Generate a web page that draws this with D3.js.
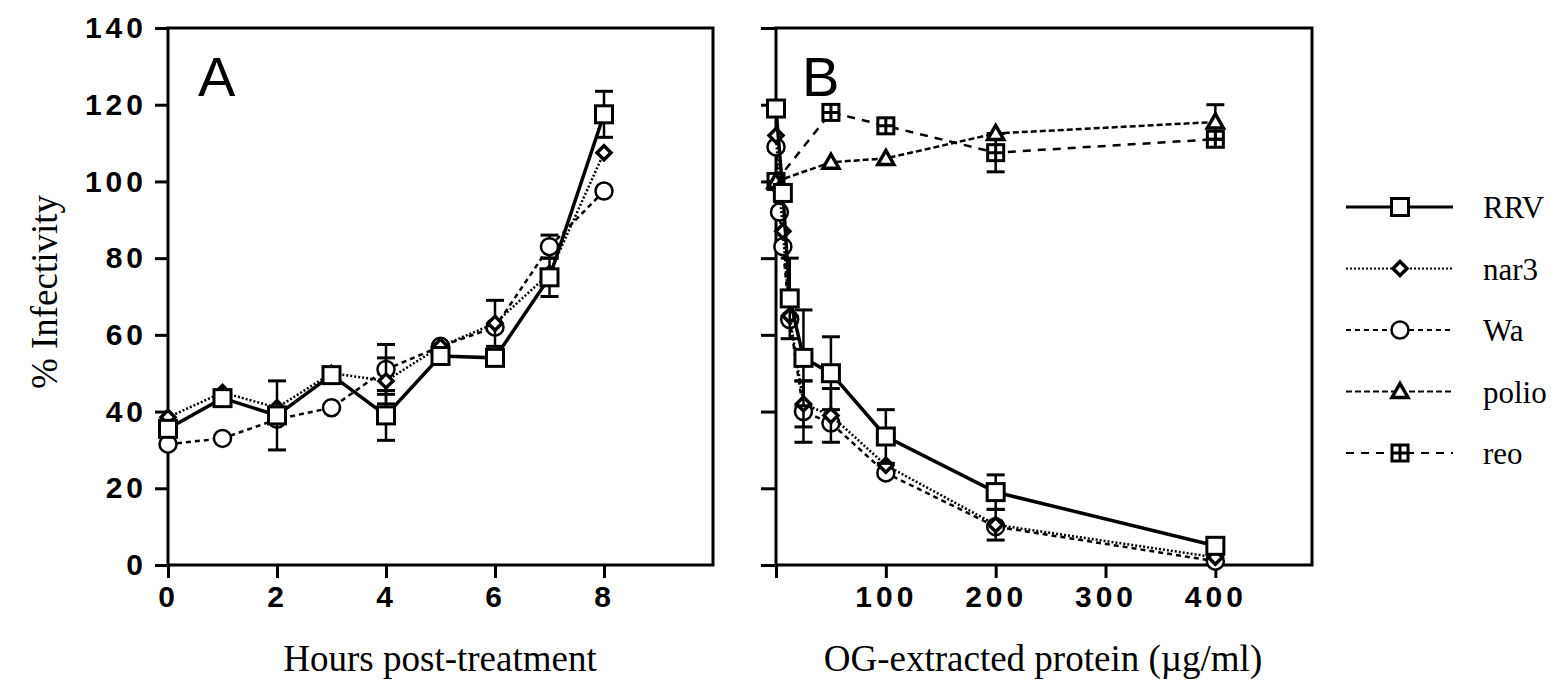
<!DOCTYPE html>
<html>
<head>
<meta charset="utf-8">
<script src="https://cdn.jsdelivr.net/npm/d3@7"></script>
<style>
  body { margin: 0; background: #fff; }
  svg { display: block; }
</style>
</head>
<body>
<script>
// ---- data ----
const hours = [0, 1, 2, 3, 4, 5, 6, 7, 8];
const rrvA = [35.5, 43.5, 39, 49.5, 39, 54.5, 54, 75, 117.5];
const rrvAErr = [0, 0, 9, 0, 6.5, 0, 0, 5, 6];
const nar3A = [38.5, 45, 41, 50, 48, 57, 63, 76, 107.5];
const nar3AErr = [0, 0, 0, 0, 6, 0, 6, 0, 0];
const waA = [31.5, 33, 38, 41, 51, 57, 62, 83, 97.5];
const waAErr = [0, 0, 0, 0, 6.5, 0, 0, 3, 0];

const doseRRV = [0, 6.25, 12.5, 25, 50, 100, 200, 400];
const rrvB = [119, 97, 69.5, 54, 50, 33.5, 19, 5];
const rrvBErr = [0, 0, 10.5, 12.5, 9.5, 7, 4.5, 0];
const doseRota = [0, 3.125, 6.25, 12.5, 25, 50, 100, 200, 400];
const nar3B = [112, 98, 87, 65, 42, 39, 26, 10.5, 2];
const nar3BErr = [0, 0, 0, 0, 6, 7, 0, 4, 0];
const waB = [109, 92, 83, 64, 40, 37, 24, 10, 1];
const waBErr = [0, 0, 0, 0, 8, 0, 0, 0, 0];
const doseCtrl = [0, 50, 100, 200, 400];
const polioB = [100, 105, 106, 112.5, 115.5];
const polioBErr = [0, 0, 0, 0, 4.5];
const reoB = [100, 118, 114.5, 107.5, 111];
const reoBErr = [0, 0, 0, 5, 0];

const yTicks = [0, 20, 40, 60, 80, 100, 120, 140];
const hourTicks = [0, 2, 4, 6, 8];
const doseTicks = [0, 100, 200, 300, 400];
const legendNames = ['RRV', 'nar3', 'Wa', 'polio', 'reo'];

// ---- styles per series ----
const styles = {
  RRV:   { dash: null,   width: 3.5, marker: 'square' },
  nar3:  { dash: '2,2',  width: 2.5, marker: 'diamond' },
  Wa:    { dash: '5,4',  width: 2.5, marker: 'circle' },
  polio: { dash: '6,3',  width: 2.5, marker: 'triangle' },
  reo:   { dash: '8,7',  width: 2.5, marker: 'crossSquare' }
};

const W = 1555, H = 695;
const svg = d3.select('body').append('svg').attr('width', W).attr('height', H);

const y = d3.scaleLinear().domain([0, 140]).range([565, 28]);
const xA = d3.scaleLinear().domain([0, 10]).range([168, 713]);
const xB = d3.scaleLinear().domain([0, 488]).range([776, 1312]);

const tickFont = '"Liberation Sans", Arial, sans-serif';
const serif = '"Liberation Serif", "Times New Roman", serif';

function drawMarker(g, type, cx, cy) {
  const m = g.append('g').attr('transform', `translate(${cx},${cy})`);
  if (type === 'square') {
    m.append('rect').attr('x', -8.5).attr('y', -8.5).attr('width', 17).attr('height', 17)
      .attr('fill', '#fff').attr('stroke', '#000').attr('stroke-width', 3);
  } else if (type === 'diamond') {
    m.append('path').attr('d', 'M0,-7L7,0L0,7L-7,0Z')
      .attr('fill', '#fff').attr('stroke', '#000').attr('stroke-width', 3.5);
  } else if (type === 'circle') {
    m.append('circle').attr('r', 8.5)
      .attr('fill', '#fff').attr('stroke', '#000').attr('stroke-width', 2.5);
  } else if (type === 'triangle') {
    m.append('path').attr('d', 'M0,-8L8,6L-8,6Z')
      .attr('fill', '#fff').attr('stroke', '#000').attr('stroke-width', 3.5);
  } else if (type === 'crossSquare') {
    m.append('rect').attr('x', -8).attr('y', -8).attr('width', 16).attr('height', 16)
      .attr('fill', '#fff').attr('stroke', '#000').attr('stroke-width', 3);
    m.append('path').attr('d', 'M0,-8V8M-8,0H8').attr('stroke', '#000').attr('stroke-width', 3);
  }
}

function drawSeries(g, x, xs, ys, errs, name) {
  const st = styles[name];
  const pts = xs.map((d, i) => ({ x: d, y: ys[i], e: errs[i] }));
  const line = d3.line().x(d => x(d.x)).y(d => y(d.y));
  // error bars
  pts.filter(d => d.e > 0).forEach(d => {
    const px = x(d.x);
    g.append('line').attr('x1', px).attr('x2', px).attr('y1', y(d.y + d.e)).attr('y2', y(d.y - d.e))
      .attr('stroke', '#000').attr('stroke-width', 2.5);
    [d.y + d.e, d.y - d.e].forEach(v => {
      g.append('line').attr('x1', px - 9).attr('x2', px + 9).attr('y1', y(v)).attr('y2', y(v))
        .attr('stroke', '#000').attr('stroke-width', 3);
    });
  });
  g.append('path').datum(pts).attr('d', line).attr('fill', 'none')
    .attr('stroke', '#000').attr('stroke-width', st.width)
    .attr('stroke-dasharray', st.dash);
  pts.forEach(d => drawMarker(g, st.marker, x(d.x), y(d.y)));
}

function frame(x0, x1) {
  svg.append('path')
    .attr('d', `M${x0},${y(0)}V${y(140)}H${x1}V${y(0)}H${x0}`)
    .attr('fill', 'none').attr('stroke', '#000').attr('stroke-width', 3);
}

function styleAxis(g) {
  g.select('.domain').remove();
  g.selectAll('.tick line').attr('stroke', '#000').attr('stroke-width', 3);
  g.selectAll('.tick text').attr('fill', '#000')
    .style('font-family', tickFont).style('font-weight', 'bold')
    .style('font-size', '30px').style('letter-spacing', '4px');
}

// ---- panel A ----
frame(168, 713);
svg.append('g').attr('transform', `translate(168,0)`)
  .call(d3.axisLeft(y).tickValues(yTicks).tickSize(13).tickPadding(8))
  .call(styleAxis);
svg.append('g').attr('transform', `translate(0,${y(0)})`)
  .call(d3.axisBottom(xA).tickValues(hourTicks).tickSize(13).tickPadding(8))
  .call(styleAxis);

const gA = svg.append('g');
drawSeries(gA, xA, hours, waA, waAErr, 'Wa');
drawSeries(gA, xA, hours, nar3A, nar3AErr, 'nar3');
drawSeries(gA, xA, hours, rrvA, rrvAErr, 'RRV');

svg.append('text').attr('x', 198).attr('y', 96).text('A')
  .style('font-family', tickFont).style('font-size', '56px');

// ---- panel B ----
frame(776, 1312);
svg.append('g').attr('transform', `translate(776,0)`)
  .call(d3.axisLeft(y).tickValues(yTicks).tickSize(15).tickFormat(''))
  .call(styleAxis);
svg.append('g').attr('transform', `translate(0,${y(0)})`)
  .call(d3.axisBottom(xB).tickValues(doseTicks).tickSize(13).tickPadding(8)
    .tickFormat(d => d === 0 ? '' : d))
  .call(styleAxis);

const gB = svg.append('g');
drawSeries(gB, xB, doseCtrl, reoB, reoBErr, 'reo');
drawSeries(gB, xB, doseCtrl, polioB, polioBErr, 'polio');
drawSeries(gB, xB, doseRota, waB, waBErr, 'Wa');
drawSeries(gB, xB, doseRota, nar3B, nar3BErr, 'nar3');
drawSeries(gB, xB, doseRRV, rrvB, rrvBErr, 'RRV');

svg.append('text').attr('x', 802).attr('y', 96).text('B')
  .style('font-family', tickFont).style('font-size', '56px');

// ---- axis titles ----
svg.append('text').attr('transform', 'translate(57,292) rotate(-90)')
  .attr('text-anchor', 'middle').text('% Infectivity')
  .style('font-family', serif).style('font-size', '37px');
svg.append('text').attr('x', 440).attr('y', 671).attr('text-anchor', 'middle')
  .text('Hours post-treatment')
  .style('font-family', serif).style('font-size', '37px');
svg.append('text').attr('x', 1043).attr('y', 671).attr('text-anchor', 'middle')
  .text('OG-extracted protein (µg/ml)')
  .style('font-family', serif).style('font-size', '37px');

// ---- legend ----
const legend = svg.append('g');
legendNames.forEach((name, i) => {
  const st = styles[name];
  const ly = 207 + i * 61.5;
  legend.append('line').attr('x1', 1346).attr('x2', 1453).attr('y1', ly).attr('y2', ly)
    .attr('stroke', '#000').attr('stroke-width', st.width - 0.5)
    .attr('stroke-dasharray', st.dash);
  drawMarker(legend, st.marker, 1400, ly);
  legend.append('text').attr('x', 1483).attr('y', ly + 11).text(name)
    .style('font-family', serif).style('font-size', '31px');
});
</script>
</body>
</html>
